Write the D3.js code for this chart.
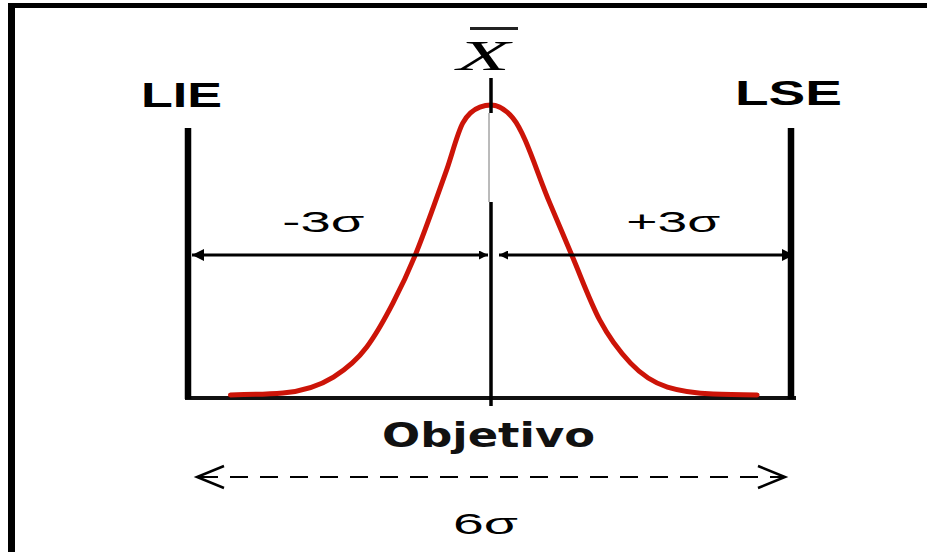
<!DOCTYPE html>
<html>
<head>
<meta charset="utf-8">
<script src="https://cdn.jsdelivr.net/npm/d3@7"></script>
<style>
  body { margin: 0; background: #fff; }
  svg { display: block; }
</style>
</head>
<body>
<div id="chart"></div>
<script>
// values (x in sigma units, height relative to the peak)
var curveX = [-2.58, -2.06, -1.56, -1.23, -0.97, -0.75, -0.57, -0.44, -0.28, -0.11, 0,
              0.22, 0.59, 0.81, 1.09, 1.40, 1.77, 2.23, 2.67];
var curveY = [0.007, 0.014, 0.068, 0.171, 0.322, 0.486, 0.651, 0.777, 0.938, 0.993, 1,
              0.955, 0.664, 0.486, 0.264, 0.116, 0.034, 0.010, 0.007];
var limitLabels = ["LIE", "LSE"];
var limitPos = [-3, 3];
var sigmaLabels = ["-3σ", "+3σ"];
var sigmaPos = [-1.66, 1.83];
var centerLabel = "Objetivo";
var spreadLabel = "6σ";

var width = 927, height = 552;

var svg = d3.select("#chart")
  .append("svg")
  .attr("width", width)
  .attr("height", height);

svg.append("rect").attr("width", width).attr("height", height).attr("fill", "#fff");

// frame (left and top only)
svg.append("rect").attr("x", 8).attr("y", 3).attr("width", 7).attr("height", height - 3).attr("fill", "#000");
svg.append("rect").attr("x", 8).attr("y", 3).attr("width", width - 8).attr("height", 5).attr("fill", "#000");

// scales
var x = d3.scaleLinear().domain([-3, 0, 3]).range([188, 491, 790]);
var y = d3.scaleLinear().domain([0, 1]).range([397, 105]);

var defs = svg.append("defs");
defs.append("marker")
  .attr("id", "head")
  .attr("viewBox", "0 0 10 10")
  .attr("refX", 10).attr("refY", 5)
  .attr("markerWidth", 6).attr("markerHeight", 4)
  .attr("markerUnits", "strokeWidth")
  .attr("orient", "auto-start-reverse")
  .append("path").attr("d", "M0,0 L10,5 L0,10 z").attr("fill", "#000");
defs.append("marker")
  .attr("id", "small")
  .attr("viewBox", "0 0 10 10")
  .attr("refX", 10).attr("refY", 5)
  .attr("markerWidth", 3.5).attr("markerHeight", 3)
  .attr("markerUnits", "strokeWidth")
  .attr("orient", "auto-start-reverse")
  .append("path").attr("d", "M0,0 L10,5 L0,10 z").attr("fill", "#000");

// baseline
svg.append("line")
  .attr("x1", x(-3) - 3).attr("x2", x(3) + 6)
  .attr("y1", y(0) + 1).attr("y2", y(0) + 1)
  .attr("stroke", "#111").attr("stroke-width", 4);

// spec limit bars
svg.selectAll(".limit")
  .data(limitPos)
  .enter().append("line")
  .attr("class", "limit")
  .attr("x1", function(d) { return x(d) + (d > 0 ? 1 : 0); })
  .attr("x2", function(d) { return x(d) + (d > 0 ? 1 : 0); })
  .attr("y1", 128).attr("y2", y(0) + 2)
  .attr("stroke", "#000").attr("stroke-width", 6.5);

// bell curve
var pts = curveX.map(function(d, i) { return [d, curveY[i]]; });
var line = d3.line()
  .x(function(d) { return x(d[0]); })
  .y(function(d) { return y(d[1]); })
  .curve(d3.curveMonotoneX);
svg.append("path")
  .datum(pts)
  .attr("d", line)
  .attr("fill", "none")
  .attr("stroke", "#cc1408")
  .attr("stroke-width", 5)
  .attr("stroke-linecap", "round");

// center line (broken near the peak like the scan)
svg.append("line")
  .attr("x1", x(0)).attr("x2", x(0)).attr("y1", 78).attr("y2", 113)
  .attr("stroke", "#000").attr("stroke-width", 3.5);
svg.append("line")
  .attr("x1", x(0) - 2).attr("x2", x(0) - 2).attr("y1", 113).attr("y2", 202)
  .attr("stroke", "#777").attr("stroke-width", 1);
svg.append("line")
  .attr("x1", x(0)).attr("x2", x(0)).attr("y1", 202).attr("y2", 406)
  .attr("stroke", "#000").attr("stroke-width", 3.5);

// -3 sigma / +3 sigma arrows
var arrowY = 255;
svg.append("line")
  .attr("x1", x(-3) + 4).attr("x2", x(0) - 3)
  .attr("y1", arrowY).attr("y2", arrowY)
  .attr("stroke", "#000").attr("stroke-width", 3)
  .attr("marker-start", "url(#head)")
  .attr("marker-end", "url(#small)");
svg.append("line")
  .attr("x1", x(0) + 8).attr("x2", x(3) + 4)
  .attr("y1", arrowY).attr("y2", arrowY)
  .attr("stroke", "#000").attr("stroke-width", 3)
  .attr("marker-start", "url(#small)")
  .attr("marker-end", "url(#head)");

// dashed 6 sigma arrow
var dashY = 477;
svg.append("line")
  .attr("x1", 200).attr("x2", 784)
  .attr("y1", dashY).attr("y2", dashY)
  .attr("stroke", "#000").attr("stroke-width", 2)
  .attr("stroke-dasharray", "18,12");
svg.append("path")
  .attr("d", "M224," + (dashY - 11) + " L197," + dashY + " L224," + (dashY + 11))
  .attr("fill", "none").attr("stroke", "#000").attr("stroke-width", 2.5);
svg.append("path")
  .attr("d", "M758," + (dashY - 11) + " L785," + dashY + " L758," + (dashY + 11))
  .attr("fill", "none").attr("stroke", "#000").attr("stroke-width", 2.5);

// texts
svg.selectAll(".limlab")
  .data(limitLabels)
  .enter().append("text")
  .attr("x", function(d, i) { return i === 0 ? 141 : 735; })
  .attr("y", function(d, i) { return i === 0 ? 107 : 105; })
  .attr("textLength", function(d, i) { return i === 0 ? 81 : 107; })
  .attr("lengthAdjust", "spacingAndGlyphs")
  .attr("font-family", "Liberation Sans, Arial, sans-serif")
  .attr("font-weight", "bold")
  .attr("font-size", 35)
  .text(function(d) { return d; });

svg.selectAll(".siglab")
  .data(sigmaLabels)
  .enter().append("text")
  .attr("x", function(d, i) { return x(sigmaPos[i]); })
  .attr("y", 232)
  .attr("text-anchor", "middle")
  .attr("textLength", function(d, i) { return i === 0 ? 82 : 94; })
  .attr("lengthAdjust", "spacingAndGlyphs")
  .attr("font-family", "Liberation Sans, Arial, sans-serif")
  .attr("font-size", 30)
  .text(function(d) { return d; });

// X bar
svg.append("text")
  .attr("x", 457).attr("y", 70)
  .attr("textLength", 53)
  .attr("lengthAdjust", "spacingAndGlyphs")
  .attr("font-family", "Liberation Serif, Times New Roman, serif")
  .attr("font-style", "italic")
  .attr("font-size", 42)
  .text("X");
svg.append("line")
  .attr("x1", 470).attr("x2", 518).attr("y1", 28.5).attr("y2", 28.5)
  .attr("stroke", "#222").attr("stroke-width", 3);

svg.append("text")
  .attr("x", 382).attr("y", 447)
  .attr("textLength", 213)
  .attr("lengthAdjust", "spacingAndGlyphs")
  .attr("font-family", "DejaVu Sans, Verdana, sans-serif")
  .attr("font-weight", "bold")
  .attr("font-size", 34)
  .attr("fill", "#111")
  .text(centerLabel);

svg.append("text")
  .attr("x", 453).attr("y", 534)
  .attr("textLength", 65)
  .attr("lengthAdjust", "spacingAndGlyphs")
  .attr("font-family", "Liberation Sans, Arial, sans-serif")
  .attr("font-size", 30)
  .text(spreadLabel);
</script>
</body>
</html>
